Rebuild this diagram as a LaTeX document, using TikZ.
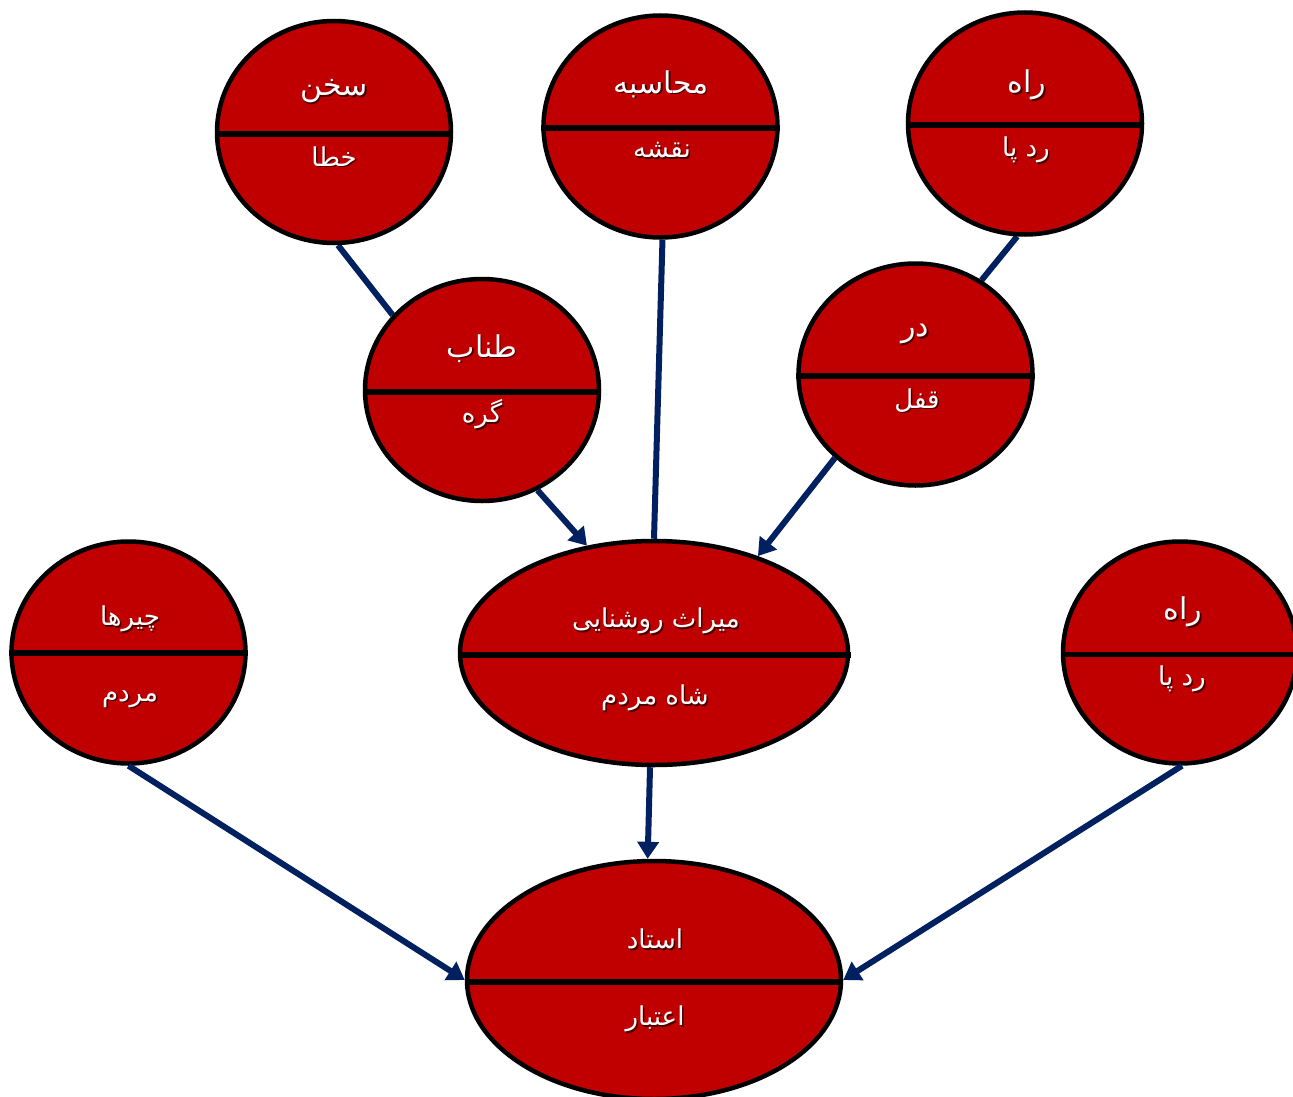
\documentclass[tikz,border=0pt]{standalone}
\usepackage{fontspec}
\TeXXeTstate=1
\newfontfamily\arabicfont[Script=Arabic]{DejaVu Sans}
\usetikzlibrary{shapes.geometric,arrows.meta}
\pgfdeclarelayer{background}
\pgfsetlayers{background,main}
\definecolor{bubblered}{HTML}{C00000}
\definecolor{linkblue}{HTML}{002060}
\definecolor{textshade}{HTML}{4A0000}
\newcommand\fatext[1]{{\arabicfont\beginR #1\endR}}
\newcommand\shadowed[1]{\leavevmode\rlap{\kern1.5pt\raisebox{-1.5pt}{\color{textshade}\fatext{#1}}}\fatext{#1}}
\tikzset{
  bubble/.style={ellipse, draw=black, line width=4.5pt, fill=bubblered, inner sep=0pt,
                 minimum width=234pt, minimum height=222pt},
  wide/.style={minimum width=388pt, minimum height=224pt},
  divider/.style={draw=black, line width=5.5pt},
  bigword/.style={text=white, inner sep=0pt, font=\fontsize{30}{34}\selectfont},
  word/.style={text=white, inner sep=0pt, font=\fontsize{26}{30}\selectfont},
  link/.style={draw=linkblue, line width=6pt},
  arrowlink/.style={link, -{Triangle[length=17pt,width=21pt]}},
}
\begin{document}
\begin{tikzpicture}[x=1pt,y=-1pt]
\useasboundingbox (0,0) rectangle (1293,1097);
\clip (0,0) rectangle (1293,1097);

% ellipses
\node[bubble] (sokhan)   at (334,132)   {};
\node[bubble] (mohasebe) at (660.5,126.5) {};
\node[bubble] (rahtop)   at (1025,123.5) {};
\node[bubble] (tanab)    at (482,390)   {};
\node[bubble] (dar)      at (915.5,374.5) {};
\node[bubble] (chirha)   at (128.5,652.5) {};
\node[bubble, wide] (miras) at (654,653) {};
\node[bubble] (rahright) at (1180,652.5) {};
\node[bubble, minimum width=374pt, minimum height=238pt] (ostad) at (654,980) {};

% dividing lines
\draw[divider] ([yshift=-2pt]sokhan.west)   -- ([yshift=-2pt]sokhan.east);
\draw[divider] ([yshift=-1.5pt]mohasebe.west) -- ([yshift=-1.5pt]mohasebe.east);
\draw[divider] ([yshift=-1.5pt]rahtop.west) -- ([yshift=-1.5pt]rahtop.east);
\draw[divider] ([yshift=-2pt]tanab.west)    -- ([yshift=-2pt]tanab.east);
\draw[divider] ([yshift=-1.5pt]dar.west)    -- ([yshift=-1.5pt]dar.east);
\draw[divider] ([yshift=-0.5pt]chirha.west) -- ([yshift=-0.5pt]chirha.east);
\draw[divider] ([yshift=-2pt]miras.west)    -- ([xshift=1pt,yshift=-2pt]miras.east);
\draw[divider] ([yshift=-2pt]rahright.west) -- ([yshift=-2pt]rahright.east);
\draw[divider] ([yshift=-2pt]ostad.west)    -- ([yshift=-2pt]ostad.east);

% labels
\node[bigword] (sokhanU)   at (334,92)   {\shadowed{سخن}};
\node[word]    (sokhanL)   at (334,157)  {\shadowed{خطا}};
\node[bigword] (mohasebeU) at (661,85)   {\shadowed{محاسبه}};
\node[word]    (mohasebeL) at (662,151)  {\shadowed{نقشه}};
\node[bigword] (rahtopU)   at (1027,86)  {\shadowed{راه}};
\node[word]    (rahtopL)   at (1026,151) {\shadowed{رد پا}};
\node[bigword] (tanabU)    at (482,349)  {\shadowed{طناب}};
\node[word]    (tanabL)    at (482,415)  {\shadowed{گره}};
\node[bigword] (darU)      at (915,335)  {\shadowed{در}};
\node[word]    (darL)      at (917,401)  {\shadowed{قفل}};
\node[word]    (chirhaU)   at (130,620)  {\shadowed{چیرها}};
\node[word]    (chirhaL)   at (130,700)  {\shadowed{مردم}};
\node[word]    (mirasU)    at (656,622)  {\shadowed{میراث روشنایی}};
\node[word]    (mirasL)    at (655,699)  {\shadowed{شاه مردم}};
\node[bigword] (rahrightU) at (1183,613) {\shadowed{راه}};
\node[word]    (rahrightL) at (1182,680) {\shadowed{رد پا}};
\node[word]    (ostadU)    at (655,940)  {\shadowed{استاد}};
\node[word]    (ostadL)    at (655,1020) {\shadowed{اعتبار}};

% connectors
\begin{pgfonlayer}{background}
\draw[link] (sokhan.-88) -- (tanab.140);
\draw[link] (mohasebe.-89) -- (miras.90);
\draw[link] (rahtop.-94) -- (dar.55);
\end{pgfonlayer}
\draw[arrowlink] (tanab.-61) -- (miras.122);
\draw[arrowlink] (dar.-134) -- (miras.43);
\draw[arrowlink] (miras.-92) -- (ostad.93);
\draw[arrowlink] (chirha.-90) -- (ostad.west);
\draw[arrowlink] (rahright.-89) -- (ostad.east);
\end{tikzpicture}
\end{document}
